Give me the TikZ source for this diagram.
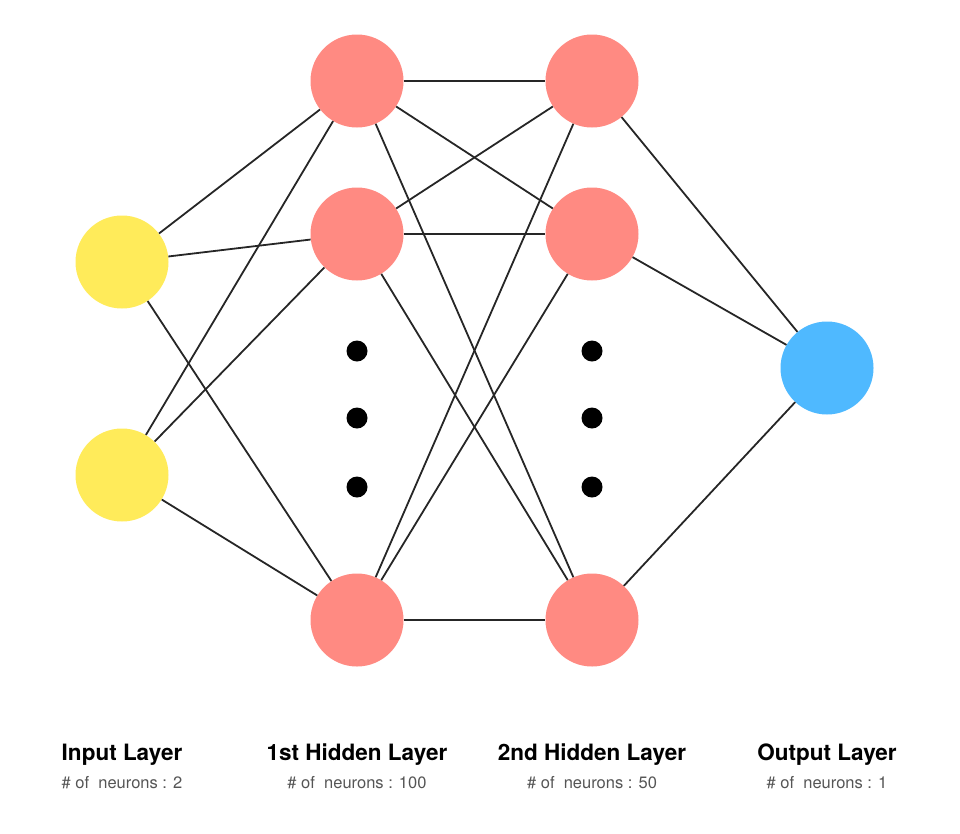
\documentclass[tikz,border=0pt]{standalone}
\usepackage{fontspec}
\setmainfont{TeX Gyre Heros}
\usepackage{tikz}
\usetikzlibrary{positioning}
\definecolor{inyellow}{HTML}{FFEB5A}
\definecolor{hidred}{HTML}{FF8A82}
\definecolor{outblue}{HTML}{4FB9FF}
\definecolor{subgray}{HTML}{555555}
\tikzset{
  neuron/.style={circle,minimum size=93pt,inner sep=0pt},
  dotn/.style={circle,fill=black,minimum size=21pt,inner sep=0pt},
  edge/.style={line width=1.8pt,draw=black!85},
  title/.style={font=\fontsize{22.5}{26}\selectfont\bfseries},
  sub/.style={font=\fontsize{16.5}{19}\selectfont,text=subgray}
}
\begin{document}
\begin{tikzpicture}[x=1pt,y=-1pt]
        \useasboundingbox (0,0) rectangle (960,833);
        \node[neuron,fill=inyellow] (i1) at (122,262) {};
        \node[neuron,fill=inyellow] (i2) at (122,475) {};
        \node[neuron,fill=hidred] (a1) at (357,81) {};
        \node[neuron,fill=hidred] (a2) at (357,234) {};
        \node[neuron,fill=hidred] (a3) at (357,620) {};
        \node[neuron,fill=hidred] (b1) at (592,81) {};
        \node[neuron,fill=hidred] (b2) at (592,234) {};
        \node[neuron,fill=hidred] (b3) at (592,620) {};
        \node[neuron,fill=outblue] (o) at (827,368) {};
        \node[dotn] (da1) at (357,351) {};
        \node[dotn] (da2) at (357,418) {};
        \node[dotn] (da3) at (357,487) {};
        \node[dotn] (db1) at (592,351) {};
        \node[dotn] (db2) at (592,418) {};
        \node[dotn] (db3) at (592,487) {};
        % connections
        \foreach \s in {i1,i2}
          \foreach \t in {a1,a2,a3}
            \draw[edge] (\s) -- (\t);
        \foreach \s in {a1,a2,a3}
          \foreach \t in {b1,b2,b3}
            \draw[edge] (\s) -- (\t);
        \foreach \s in {b1,b2,b3}
          \draw[edge] (\s) -- (o);
        % labels
        \node[title] (ti) at (122,755) {Input Layer};
        \node[title] (ta) at (357,755) {1st Hidden Layer};
        \node[title] (tb) at (592,755) {2nd Hidden Layer};
        \node[title] (to) at (827,755) {Output Layer};
        \node[sub] (si) at (122,783) {\# of\ \ neurons : 2};
        \node[sub] (sa) at (357,783) {\# of\ \ neurons : 100};
        \node[sub] (sb) at (592,783) {\# of\ \ neurons : 50};
        \node[sub] (so) at (827,783) {\# of\ \ neurons : 1};
    \end{tikzpicture}
\end{document}
